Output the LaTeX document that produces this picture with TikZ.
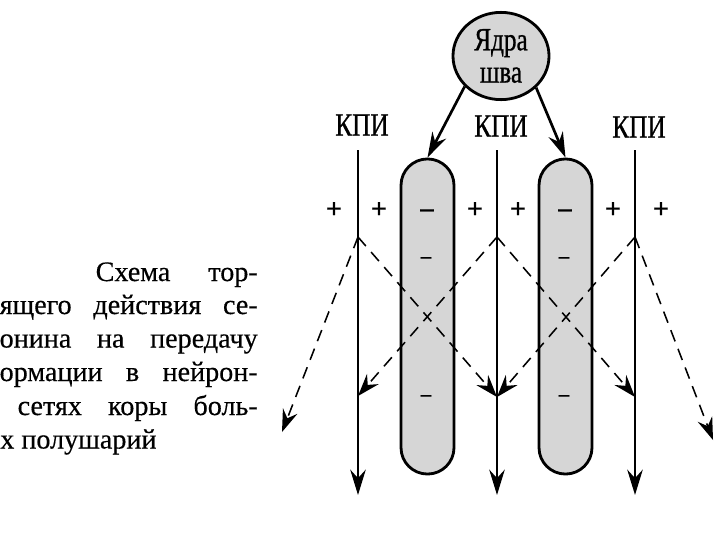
\documentclass[tikz,border=0pt]{standalone}
\usepackage{fontspec}
\setmainfont{Liberation Serif}[FakeBold=0.4]
\newfontfamily\labelfont{Liberation Serif}[FakeStretch=0.78,FakeBold=0.8]
\usepackage{tikz}
\usetikzlibrary{arrows.meta,shapes.geometric,positioning}
\definecolor{capsulegray}{gray}{0.84}

\tikzset{
  axon/.style={line width=1.9pt,-{Stealth[length=18pt,width=11pt,inset=6pt]}},
  branch/.style={line width=1.1pt,dash pattern=on 8.5pt off 5.7pt,-{Stealth[length=16pt,width=11pt,inset=5.5pt]}},
  capsule/.style={draw,line width=2pt,fill=capsulegray,rounded corners=0.66cm,
    minimum width=1.325cm,minimum height=7.875cm,inner sep=0pt},
  kpi/.style={font=\labelfont\fontsize{23}{23}\selectfont,inner sep=1pt},
  sign/.style={font=\bfseries\fontsize{20}{22}\selectfont,inner sep=0pt},
  minus/.style={font=\bfseries\fontsize{19}{22}\selectfont,inner sep=0pt},
  smallminus/.style={font=\bfseries\fontsize{15}{17}\selectfont,inner sep=0pt},
  caption/.style={font=\fontsize{20}{23}\selectfont,inner sep=0pt}
}

\begin{document}
\begin{tikzpicture}[x=0.025cm,y=-0.025cm]
                \useasboundingbox (0,0) rectangle (720,540);
                % axon ends
                \coordinate (a1) at (358,150);
                \coordinate (a2) at (497,150);
                \coordinate (a3) at (635,150);
                \coordinate (b1) at (358,495);
                \coordinate (b2) at (497,495);
                \coordinate (b3) at (635,495);
                \coordinate (f1) at (358,237);
                \coordinate (f2) at (497,237);
                \coordinate (f3) at (635,237);
                \coordinate (h1) at (358,396);
                \coordinate (h2) at (497,397);
                \coordinate (h3) at (635,397);
                \coordinate (o1) at (282,432);
                \coordinate (o3) at (713,440);
                % serotonin cells
                \node[capsule] (c1) at (427.5,316.5) {};
                \node[capsule] (c2) at (565.5,316.5) {};
                \node[ellipse,draw,line width=2pt,fill=capsulegray,minimum width=2.4cm,
                  minimum height=2.18cm,inner sep=0pt,align=center,
                  font=\labelfont\fontsize{23}{23}\selectfont] (raphe) at (501,56) {Ядра\\шва};
                \draw[axon] (raphe.220) -- (c1.north);
                \draw[axon] (raphe.318) -- (c2.north);
                % labels
                \node[kpi] (k1) at (362,125) {КПИ};
                \node[kpi] (k2) at (501,126) {КПИ};
                \node[kpi] (k3) at (639,127) {КПИ};
                \draw[axon] (a1) -- (b1);
                \draw[axon] (a2) -- (b2);
                \draw[axon] (a3) -- (b3);
                \draw[branch] (f1) -- (o1);
                \draw[branch] (f1) -- (h2);
                \draw[branch] (f2) -- (h1);
                \draw[branch] (f2) -- (h3);
                \draw[branch] (f3) -- (h2);
                \draw[branch] (f3) -- (o3);
                % charges
                \node[sign] (p1) at (334,210) {+};
                \node[sign] (p2) at (379,210) {+};
                \node[sign] (p3) at (475,210) {+};
                \node[sign] (p4) at (518,210) {+};
                \node[sign] (p5) at (613,210) {+};
                \node[sign] (p6) at (661,210) {+};
                \node[minus] (m1) at (427,213) {–};
                \node[minus] (m2) at (565,213) {–};
                \node[smallminus] (m3) at (426,260) {–};
                \node[smallminus] (m4) at (564,260) {–};
                \node[smallminus] (m5) at (426,398) {–};
                \node[smallminus] (m6) at (564,398) {–};
                % caption
                \node[caption,anchor=base east] (l1) at (258,281) {\makebox[4.05cm][s]{Схема тор-}};
                \node[caption,anchor=base east] (l2) at (258,314) {\makebox[6.45cm][s]{ящего действия се-}};
                \node[caption,anchor=base east] (l3) at (258,347.5) {\makebox[6.45cm][s]{онина на передачу}};
                \node[caption,anchor=base east] (l4) at (258,381) {\makebox[6.45cm][s]{ормации в нейрон-}};
                \node[caption,anchor=base east] (l5) at (258,415) {\makebox[6.0cm][s]{сетях коры боль-}};
                \node[caption,anchor=base west] (l6) at (0,448.5) {х полушарий};
            \end{tikzpicture}
\end{document}
